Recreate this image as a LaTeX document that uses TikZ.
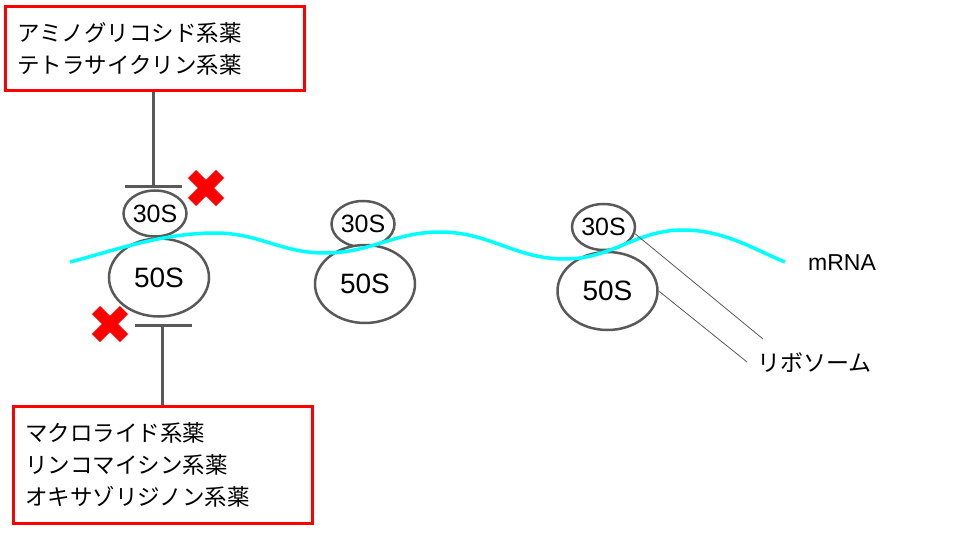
\documentclass[tikz,border=0pt]{standalone}
\usepackage{fontspec}
\setmainfont{Liberation Sans}
\newfontfamily\jp{Noto Sans CJK JP}
\usetikzlibrary{shapes.geometric}
\definecolor{gline}{HTML}{595959}
\definecolor{rna}{HTML}{00FFFF}
\definecolor{xred}{HTML}{FF0000}
\tikzset{
  sub30/.style={ellipse, draw=gline, line width=2.5pt, fill=white, minimum width=63, minimum height=46, inner sep=0pt, font=\fontsize{25}{27}\selectfont},
  sub50/.style={ellipse, draw=gline, line width=2.5pt, fill=white, minimum width=100, minimum height=78, inner sep=0pt, font=\fontsize{28}{30}\selectfont},
  drugbox/.style={draw=xred, line width=3pt, align=left, inner xsep=12pt, inner ysep=0pt, font=\jp\fontsize{22.5}{32}\selectfont},
  tbar/.style={draw=gline, line width=3pt},
  leader/.style={draw=gline, line width=0.8pt},
  xmark/.style={draw=xred, line width=11.5pt, line cap=butt},
  lbl/.style={inner sep=0pt}
}
\begin{document}
\begin{tikzpicture}[x=1pt,y=-1pt]
\useasboundingbox (0,0) rectangle (960,540);

% boxes
\node[drugbox, minimum width=299, minimum height=84, text width=275] (btop) at (154.5,49)
  {アミノグリコシド系薬\\テトラサイクリン系薬};
\node[drugbox, minimum width=299, minimum height=117, text width=275] (bbot) at (162.5,464.5)
  {マクロライド系薬\\リンコマイシン系薬\\オキサゾリジノン系薬};

% ribosomes
\node[sub30] (l30) at (155,213.5) {30S};
\node[sub50] (l50) at (159,277.5) {50S};
\node[sub30] (m30) at (363,224) {30S};
\node[sub50] (m50) at (365,284) {50S};
\node[sub30] (r30) at (603.5,227) {30S};
\node[sub50] (r50) at (607.5,291) {50S};

% mRNA
\draw[rna, line width=3.5pt] (70,262) .. controls (110,252) and (160,233) .. (215,233)
  .. controls (259,233) and (281,253) .. (325,253)
  .. controls (371,253) and (394,232) .. (440,232)
  .. controls (490,232) and (515,259) .. (565,259)
  .. controls (612,259) and (636,230) .. (683,230)
  .. controls (725,230) and (755,250) .. (785,262);

% labels
\node[lbl, anchor=base west] (mrna) at (808,270) {\fontsize{23}{26}\selectfont mRNA};
\node[lbl, anchor=west] (ribo) at (757,363) {\jp\fontsize{23}{26}\selectfont リボソーム};

% leaders
\coordinate (le1) at (763,339);
\coordinate (le2) at (747,362);
\draw[leader] (r30.-12) -- (le1);
\draw[leader] (r50.east) -- (le2);

% inhibition connectors
\coordinate (tb1) at (153,186);
\coordinate (tb1a) at (125,186);
\coordinate (tb1b) at (182,186);
\draw[tbar] (btop.south -| tb1) -- (tb1);
\draw[tbar] (tb1a) -- (tb1b);

\coordinate (tb2) at (162,325);
\coordinate (tb2a) at (135,325);
\coordinate (tb2b) at (192,325);
\draw[tbar] (bbot.north -| tb2) -- (tb2);
\draw[tbar] (tb2a) -- (tb2b);

% red crosses
\coordinate (x1) at (206,188);
\draw[xmark] ([shift={(-14,-14)}]x1) -- ([shift={(14,14)}]x1);
\draw[xmark] ([shift={(-14,14)}]x1) -- ([shift={(14,-14)}]x1);
\coordinate (x2) at (110,324);
\draw[xmark] ([shift={(-14,-14)}]x2) -- ([shift={(14,14)}]x2);
\draw[xmark] ([shift={(-14,14)}]x2) -- ([shift={(14,-14)}]x2);
\end{tikzpicture}
\end{document}
